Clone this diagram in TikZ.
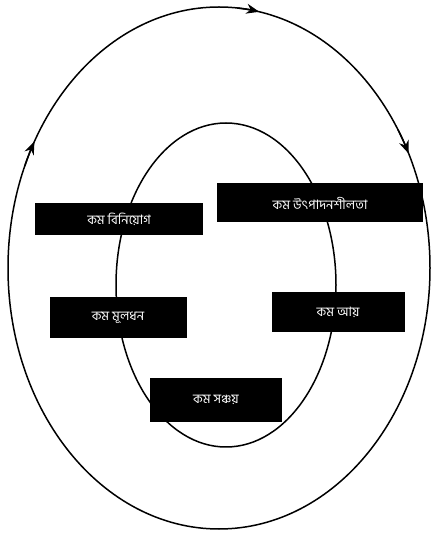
\documentclass[tikz,border=0pt]{standalone}
\usepackage{fontspec}
\newfontfamily\bnfont[Script=Bengali]{Hind Siliguri}
\usetikzlibrary{arrows.meta}
\tikzset{
  cyclebox/.style={fill=black,text=white,inner sep=0pt,font=\bnfont\fontsize{13}{15}\selectfont},
  ring/.style={line width=1.5pt},
}
\begin{document}
\begin{tikzpicture}[x=1pt,y=1pt]
  \useasboundingbox (0,0) rectangle (433,536);
  % outer cycle, runs clockwise
  \coordinate (O) at (219,268);
  \draw[ring] (O) ellipse[x radius=211pt,y radius=261pt];
  \foreach \a in {79,26,151} \draw[ring,-{Stealth[length=13pt,width=10pt]}] (O) ++({\a+6}:211 and 261) arc[start angle=\a+6,end angle=\a,x radius=211pt,y radius=261pt];
  % inner cycle
  \coordinate (I) at (226,251);
  \draw[ring] (I) ellipse[x radius=110pt,y radius=162pt];
  % the five boxes
  \node[cyclebox,minimum width=168pt,minimum height=32pt] (invest) at (119,317) {কম বিনিয়োগ};
  \node[cyclebox,minimum width=206pt,minimum height=39pt] (product) at (320,333) {কম উৎপাদনশীলতা};
  \node[cyclebox,minimum width=137pt,minimum height=41pt] (capital) at (118,218) {কম মূলধন};
  \node[cyclebox,minimum width=133pt,minimum height=40pt] (income) at (338,224) {কম আয়};
  \node[cyclebox,minimum width=132pt,minimum height=44pt] (saving) at (216,136) {কম সঞ্চয়};
\end{tikzpicture}
\end{document}
